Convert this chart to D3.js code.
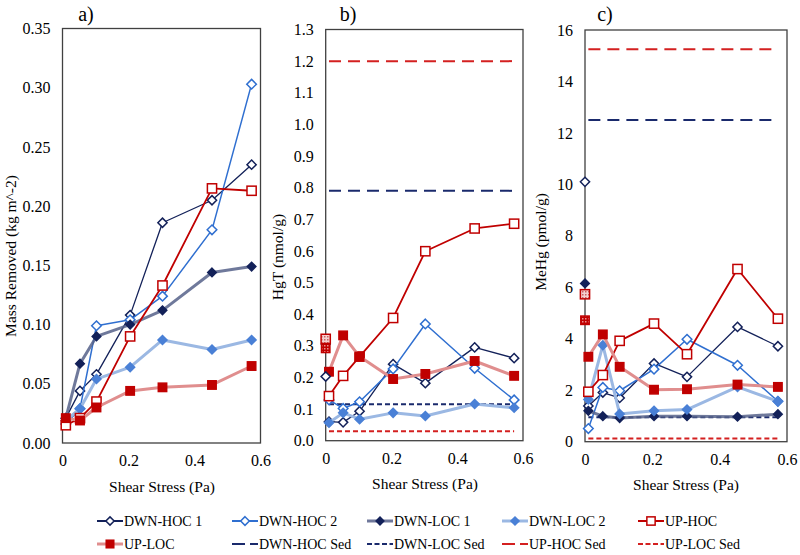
<!DOCTYPE html>
<html><head><meta charset="utf-8">
<script src="https://cdn.jsdelivr.net/npm/d3@7"></script>
<style>
html,body{margin:0;padding:0;background:#fff;}
svg text{font-family:"Liberation Serif","Times New Roman",Times,serif !important;fill:#000;}
</style></head>
<body><svg id="chart" width="800" height="555" font-family="Liberation Serif, serif"></svg>
<script>
// ---------- DATA ----------
const shear = [0.01, 0.053, 0.103, 0.205, 0.303, 0.453, 0.573];
const seriesNames = ["DWN-HOC 1","DWN-HOC 2","DWN-LOC 1","DWN-LOC 2","UP-HOC","UP-LOC"];
const sedNames = ["DWN-HOC Sed","DWN-LOC Sed","UP-HOC Sed","UP-LOC Sed"];

// a) Mass removed (kg m^-2)
const massDwnHoc1 = [0.021, 0.044, 0.058, 0.108, 0.186, 0.205, 0.235];
const massDwnHoc2 = [0.016, 0.029, 0.099, 0.104, 0.124, 0.180, 0.303];
const massDwnLoc1 = [0.021, 0.067, 0.090, 0.100, 0.112, 0.144, 0.149];
const massDwnLoc2 = [0.019, 0.029, 0.054, 0.064, 0.087, 0.079, 0.087];
const massUpHoc   = [0.015, 0.021, 0.035, 0.090, 0.133, 0.215, 0.213];
const massUpLoc   = [0.021, 0.019, 0.030, 0.044, 0.047, 0.049, 0.065];

// b) HgT (nmol/g)
const hgtDwnHoc1 = [0.060, 0.058, 0.093, 0.242, 0.182, 0.295, 0.261];
const hgtDwnHoc2 = [0.129, 0.102, 0.123, 0.227, 0.369, 0.229, 0.129];
const hgtDwnLoc1 = null;
const hgtDwnLoc2 = [0.057, 0.088, 0.068, 0.088, 0.078, 0.116, 0.104];
const hgtUpHoc   = [0.141, 0.205, 0.266, 0.388, 0.599, 0.671, 0.686];
const hgtUpLoc   = [0.218, 0.333, 0.266, 0.195, 0.211, 0.252, 0.205];
const hgtInitial = [0.203, null, 0.305, null, 0.322, 0.292];   // values at shear = 0
const hgtSed     = [0.79, 0.115, 1.20, 0.03];

// c) MeHg (pmol/g)
const mehgDwnHoc1 = [1.39, 1.91, 1.70, 3.04, 2.52, 4.46, 3.71];
const mehgDwnHoc2 = [0.51, 2.11, 1.98, 2.82, 3.98, 2.97, 1.57];
const mehgDwnLoc1 = [1.20, 0.99, 0.92, 0.99, 0.99, 0.97, 1.07];
const mehgDwnLoc2 = [1.64, 3.75, 1.08, 1.20, 1.25, 2.13, 1.57];
const mehgUpHoc   = [1.94, 2.59, 3.92, 4.59, 3.40, 6.71, 4.78];
const mehgUpLoc   = [3.30, 4.17, 2.91, 2.02, 2.04, 2.22, 2.13];
const mehgInitial = [10.1, null, 6.15, null, 5.73, 4.72];
const mehgSed     = [12.5, 0.95, 15.25, 0.12];

const xTicks = [0, 0.2, 0.4, 0.6];
const xTickLabels = ["0", "0.2", "0.4", "0.6"];
const yTicksA = [0, 0.05, 0.10, 0.15, 0.20, 0.25, 0.30, 0.35];
const yTicksB = [0, 0.1, 0.2, 0.3, 0.4, 0.5, 0.6, 0.7, 0.8, 0.9, 1.0, 1.1, 1.2, 1.3];
const yTicksC = [0, 2, 4, 6, 8, 10, 12, 14, 16];

// ---------- STYLES ----------
const FONT = '"Liberation Serif", "Times New Roman", Times, serif';
const NAVY = "#132159", BLUE = "#2f6fd0", RED = "#c00000";
const styles = [
  {line: NAVY, lw: 1.3, op: 1, marker: "diamond", fill: "#fff", stroke: NAVY, r: 4.6},
  {line: BLUE, lw: 1.5, op: 1, marker: "diamond", fill: "#fff", stroke: BLUE, r: 4.8},
  {line: "#56618a", lw: 3, op: 0.85, marker: "diamond", fill: NAVY, stroke: NAVY, r: 4.3},
  {line: "#9bb8e3", lw: 3, op: 1, marker: "diamond", fill: "#4a80d6", stroke: "#4a80d6", r: 4.5},
  {line: RED, lw: 1.8, op: 1, marker: "square", fill: "#fff", stroke: RED, r: 4.6},
  {line: "#e08e8e", lw: 3, op: 1, marker: "square", fill: RED, stroke: RED, r: 4.2}
];
const sedStyles = [
  {color: "#1a2a6c", dash: "12,7", lw: 2},
  {color: "#1a2a6c", dash: "5,3", lw: 2},
  {color: "#d42020", dash: "12,7", lw: 2},
  {color: "#d42020", dash: "5,3", lw: 2}
];

const svg = d3.select("#chart");
const defs = svg.append("defs");
const p1 = defs.append("pattern").attr("id","hatchOpen").attr("width",3).attr("height",3).attr("patternUnits","userSpaceOnUse");
p1.append("rect").attr("width",3).attr("height",3).attr("fill","#f4d0d0");
p1.append("rect").attr("width",1.5).attr("height",1.5).attr("fill","#c86060");
const p2 = defs.append("pattern").attr("id","hatchFill").attr("width",3).attr("height",3).attr("patternUnits","userSpaceOnUse");
p2.append("rect").attr("width",3).attr("height",3).attr("fill",RED);
p2.append("rect").attr("width",1.5).attr("height",1.5).attr("fill","#e89090");

function drawMarker(g, type, cx, cy, st, fillOverride) {
  const r = st.r;
  if (type === "diamond") {
    g.append("path").attr("d", `M${cx},${cy-r}L${cx+r},${cy}L${cx},${cy+r}L${cx-r},${cy}Z`)
      .attr("fill", fillOverride || st.fill).attr("stroke", st.stroke).attr("stroke-width", 1.5);
  } else {
    g.append("rect").attr("x", cx-r).attr("y", cy-r).attr("width", 2*r).attr("height", 2*r)
      .attr("fill", fillOverride || st.fill).attr("stroke", st.stroke).attr("stroke-width", 1.5);
  }
}

function txt(sel, size) {
  return sel.style("font-family", FONT).style("font-size", size).attr("fill", "#000");
}

function panel(cfg) {
  const x = d3.scaleLinear().domain([0, 0.6]).range([cfg.left, cfg.right]);
  const y = d3.scaleLinear().domain([0, cfg.ymax]).range([cfg.bottom, cfg.top]);
  const g = svg.append("g");
  const xa = g.append("g").attr("transform", `translate(0,${cfg.bottom})`)
    .call(d3.axisBottom(x).tickValues(xTicks).tickFormat((d,i)=>xTickLabels[i]).tickSize(0).tickPadding(12));
  const ya = g.append("g").attr("transform", `translate(${cfg.left},0)`)
    .call(d3.axisLeft(y).tickValues(cfg.yticks).tickFormat(d3.format(cfg.fmt)).tickSize(0).tickPadding(12));
  [xa, ya].forEach(a => { a.attr("font-family", null).attr("font-size", null); a.select(".domain").remove(); txt(a.selectAll("text"), "16px"); });
  g.append("rect").attr("x", cfg.left).attr("y", cfg.top).attr("width", cfg.right-cfg.left).attr("height", cfg.bottom-cfg.top)
    .attr("fill","none").attr("stroke","#404040").attr("stroke-width",1.3);
  if (cfg.sed) {
    cfg.sed.forEach((v,i) => {
      const s = sedStyles[i];
      g.append("line").attr("x1", x(shear[0])).attr("x2", x(shear[shear.length-1]))
        .attr("y1", y(v)).attr("y2", y(v)).attr("stroke", s.color).attr("stroke-width", s.lw).attr("stroke-dasharray", s.dash);
    });
  }
  const line = d3.line().x((d,i)=>x(shear[i])).y(d=>y(d));
  cfg.series.forEach((vals, si) => {
    if (!vals) return;
    const st = styles[si];
    g.append("path").attr("d", line(vals)).attr("fill","none").attr("stroke", st.line)
      .attr("stroke-width", st.lw).attr("opacity", st.op).attr("stroke-linejoin","round");
    vals.forEach((v,i) => drawMarker(g, st.marker, x(shear[i]), y(v), st));
  });
  if (cfg.initial) {
    cfg.initial.forEach((v, si) => {
      if (v == null) return;
      const st = styles[si];
      let fo = null;
      if (si === 4) fo = "url(#hatchOpen)";
      if (si === 5) fo = "url(#hatchFill)";
      drawMarker(g, st.marker, x(0), y(v), st, fo);
    });
  }
  txt(g.append("text").attr("x", cfg.labelX).attr("y", 21).attr("text-anchor","middle"), "20px").text(cfg.label);
  txt(g.append("text").attr("x", cfg.xTitleX).attr("y", cfg.xTitleY).attr("text-anchor","middle"), "15.5px").text("Shear Stress (Pa)");
  txt(g.append("text").attr("transform", `translate(${cfg.yTitleX},${cfg.yTitleY}) rotate(-90)`).attr("text-anchor","middle")
    .attr("dy","0.35em"), "15.5px").text(cfg.yTitle);
}

panel({left:62.5, right:260.5, top:28.5, bottom:443, ymax:0.35, yticks:yTicksA, fmt:".2f",
  series:[massDwnHoc1, massDwnHoc2, massDwnLoc1, massDwnLoc2, massUpHoc, massUpLoc],
  label:"a)", labelX:86, xTitleX:162, xTitleY:492, yTitleX:11, yTitleY:256, yTitle:"Mass Removed (kg m^-2)"});
panel({left:325.7, right:523, top:29.5, bottom:440.7, ymax:1.3, yticks:yTicksB, fmt:".1f",
  series:[hgtDwnHoc1, hgtDwnHoc2, hgtDwnLoc1, hgtDwnLoc2, hgtUpHoc, hgtUpLoc], initial:hgtInitial, sed:hgtSed,
  label:"b)", labelX:348, xTitleX:425, xTitleY:489, yTitleX:278, yTitleY:257, yTitle:"HgT (nmol/g)"});
panel({left:585, right:787, top:30, bottom:441.7, ymax:16, yticks:yTicksC, fmt:"d",
  series:[mehgDwnHoc1, mehgDwnHoc2, mehgDwnLoc1, mehgDwnLoc2, mehgUpHoc, mehgUpLoc], initial:mehgInitial, sed:mehgSed,
  label:"c)", labelX:605, xTitleX:686, xTitleY:490, yTitleX:541, yTitleY:242, yTitle:"MeHg (pmol/g)"});

// ---------- LEGEND ----------
const lg = svg.append("g");
const colX = [97, 232, 367, 502, 638];
const rowY = [521, 544];
const legendItems = seriesNames.map((n,i)=>({name:n, type:"series", idx:i}))
  .concat(sedNames.map((n,i)=>({name:n, type:"sed", idx:i})));
legendItems.forEach((it, k) => {
  const cx = colX[k % 5], cy = rowY[Math.floor(k / 5)];
  if (it.type === "series") {
    const st = styles[it.idx];
    lg.append("line").attr("x1", cx).attr("x2", cx+26).attr("y1", cy).attr("y2", cy)
      .attr("stroke", st.line).attr("stroke-width", st.lw < 2 ? 2 : st.lw).attr("opacity", st.op);
    drawMarker(lg, st.marker, cx+13, cy, Object.assign({}, st, {r: st.r*0.9}));
  } else {
    const s = sedStyles[it.idx];
    lg.append("line").attr("x1", cx).attr("x2", cx+26).attr("y1", cy).attr("y2", cy)
      .attr("stroke", s.color).attr("stroke-width", 2.2).attr("stroke-dasharray", it.idx % 2 === 0 ? "13,5" : "5,2.5");
  }
  txt(lg.append("text").attr("x", cx+27).attr("y", cy).attr("dy","0.35em"), "14px").text(it.name);
});
</script></body></html>
